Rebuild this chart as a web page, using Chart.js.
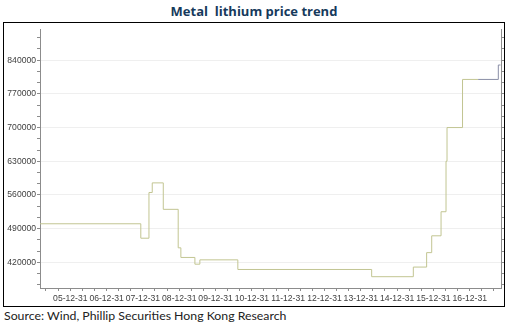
<!DOCTYPE html>
<html>
<head>
<meta charset="utf-8">
<script src="https://cdn.jsdelivr.net/npm/chart.js@4.4.1/dist/chart.umd.min.js"></script>
<style>
  body { margin: 0; background: #fff; width: 508px; height: 325px; position: relative; overflow: hidden; }
  #title { position: absolute; left: 0; top: 2px; width: 508px; text-align: center; white-space: pre;
           font: bold 13px "Open Sans", Lato, sans-serif; color: #163a5c; }
  #box { position: absolute; left: 3px; top: 22px; width: 500px; height: 283px; border: 1px solid #000; }
  #source { position: absolute; left: 4px; top: 308px; font: 12.3px Lato, "Open Sans", sans-serif; color: #222; }
</style>
</head>
<body>
<div id="title">Metal  lithium price trend</div>
<div id="box"><canvas id="price-chart" width="500" height="283"></canvas></div>
<div id="source">Source: Wind, Phillip Securities Hong Kong Research</div>
<script>
// dates where the price changes, and the new price from that date on
var changeDates = ['2005-03-01', '2007-12-10', '2008-03-01', '2008-04-03', '2008-07-23', '2008-12-20',
                   '2009-01-16', '2009-06-06', '2009-07-26', '2010-08-12', '2014-04-19', '2015-06-12',
                   '2015-10-24', '2015-12-14', '2016-03-17', '2016-05-06', '2016-05-16', '2016-10-19',
                   '2017-03-25', '2017-10-14', '2017-11-05'];
var lithiumPrices = [500000, 470000, 565000, 585000, 530000, 450000,
                     430000, 416000, 425000, 405000, 390000, 410000,
                     440000, 475000, 525000, 630000, 700000, 800000,
                     800000, 830000, 830000];
var colourChangeDate = '2017-03-25';

var yearEndLabels = ['05-12-31', '06-12-31', '07-12-31', '08-12-31', '09-12-31', '10-12-31',
                     '11-12-31', '12-12-31', '13-12-31', '14-12-31', '15-12-31', '16-12-31'];
var yearEndDates = ['2005-12-31', '2006-12-31', '2007-12-31', '2008-12-31', '2009-12-31', '2010-12-31',
                    '2011-12-31', '2012-12-31', '2013-12-31', '2014-12-31', '2015-12-31', '2016-12-31'];
var yLabelStep = 70000;

var axisMin = Date.parse('2005-03-01');
var axisMax = Date.parse('2017-11-10');

// minor ticks every four months
var xTickValues = [];
for (var yr = 2005; yr <= 2017; yr++) {
    ['-04-30', '-08-31', '-12-31'].forEach(function (md) {
        var v = Date.parse(yr + md);
        if (v >= axisMin && v <= axisMax) xTickValues.push(v);
    });
}
var yearEndValues = yearEndDates.map(function (d) { return Date.parse(d); });

var points = changeDates.map(function (d, i) { return { x: Date.parse(d), y: lithiumPrices[i] }; });

var olive = '#c2c592';
var slate = '#8a8ea6';

function yTicks(scale) {
    var t = [];
    for (var k = 16; k <= 38; k++) t.push({ value: k * yLabelStep / 3 });
    scale.ticks = t;
}

var config = {
    type: 'line',
    data: {
        datasets: [{
            label: 'Metal lithium',
            data: points,
            stepped: 'before',
            borderWidth: 1,
            pointRadius: 0,
            borderColor: olive,
            segment: {
                borderColor: function (ctx) {
                    return ctx.p0.parsed.x >= Date.parse(colourChangeDate) ? slate : olive;
                }
            }
        }]
    },
    options: {
        responsive: false,
        animation: false,
        layout: { padding: { top: 4, right: 0, bottom: 0, left: 0 } },
        plugins: { legend: { display: false }, tooltip: { enabled: false } },
        scales: {
            x: {
                type: 'linear',
                min: axisMin,
                max: axisMax,
                afterBuildTicks: function (scale) {
                    scale.ticks = xTickValues.map(function (v) { return { value: v }; });
                },
                afterFit: function (scale) { scale.height = 18; },
                border: { color: '#8c8c8c' },
                grid: { drawOnChartArea: false, tickColor: '#8c8c8c', tickLength: 3 },
                ticks: {
                    autoSkip: false,
                    maxRotation: 0,
                    padding: 2,
                    color: '#404040',
                    font: { family: 'Liberation Sans, Arial, sans-serif', size: 8.6 },
                    callback: function (value) {
                        var i = yearEndValues.indexOf(value);
                        return i >= 0 ? yearEndLabels[i] : '';
                    }
                }
            },
            y: {
                min: 366500,
                max: 904500,
                afterBuildTicks: yTicks,
                afterFit: function (scale) { scale.width = 36; },
                border: { color: '#8c8c8c' },
                grid: {
                    tickLength: 3,
                    tickColor: '#8c8c8c',
                    color: function (ctx) {
                        if (!ctx.tick) return 'transparent';
                        return Math.round(ctx.tick.value) % yLabelStep === 0 ? '#efefef' : 'transparent';
                    }
                },
                ticks: {
                    autoSkip: false,
                    padding: 1,
                    color: '#404040',
                    font: { family: 'Liberation Sans, Arial, sans-serif', size: 8.6 },
                    callback: function (value) {
                        return Math.round(value) % yLabelStep === 0 ? String(Math.round(value)) : '';
                    }
                }
            },
            yRight: {
                position: 'right',
                min: 366500,
                max: 904500,
                afterBuildTicks: yTicks,
                afterFit: function (scale) { scale.width = 3; },
                border: { color: '#8c8c8c' },
                grid: { drawOnChartArea: false, tickLength: 3, tickColor: '#8c8c8c' },
                ticks: { display: false }
            }
        }
    }
};

var priceContext = document.getElementById('price-chart').getContext('2d');
window.priceChart = new Chart(priceContext, config);
</script>
</body>
</html>
